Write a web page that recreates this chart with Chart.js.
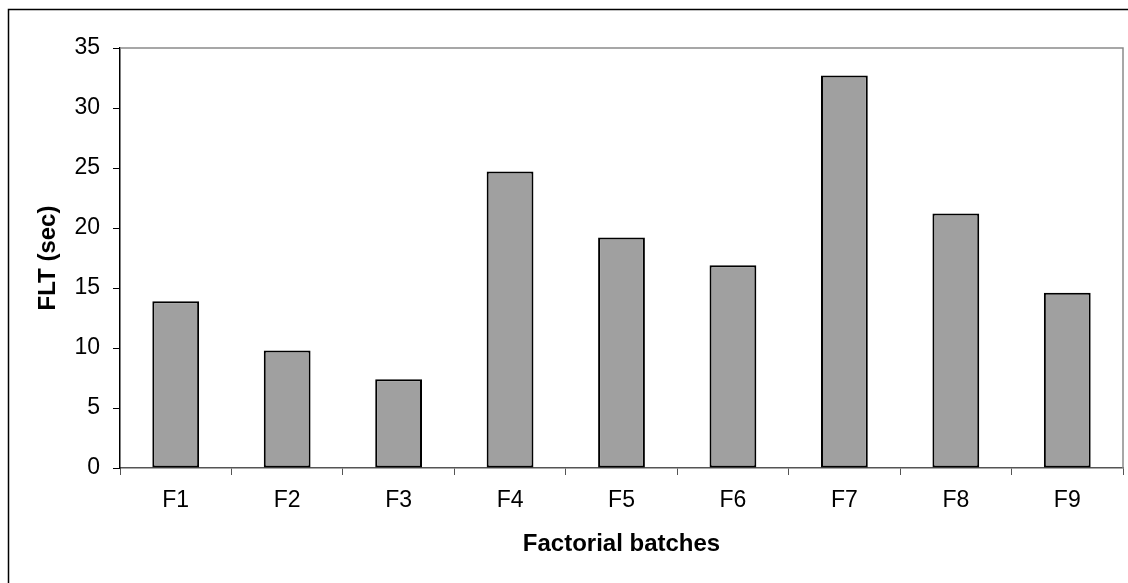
<!DOCTYPE html>
<html>
<head>
<meta charset="utf-8">
<script src="https://cdn.jsdelivr.net/npm/chart.js@4.4.0/dist/chart.umd.min.js"></script>
<style>
  html, body { margin: 0; padding: 0; background: #fff; }
  #wrap { width: 1128px; height: 583px; position: relative; }
</style>
</head>
<body>
<div id="wrap"><canvas id="fltChart"></canvas></div>
<script>
// ── Data ───────────────────────────────────────────────────────────
const batches  = ['F1', 'F2', 'F3', 'F4', 'F5', 'F6', 'F7', 'F8', 'F9'];
const fltSec   = [13.9, 9.8, 7.4, 24.7, 19.2, 16.9, 32.7, 21.2, 14.6];
const yTicks   = [0, 5, 10, 15, 20, 25, 30, 35];

const FONT = "'Liberation Sans', Arial, sans-serif";

// frame around the chart + grey top/right edges of the plot area
const framePlugin = {
  id: 'frame',
  beforeDraw(chart) {
    const c = chart.ctx;
    c.save();
    c.fillStyle = '#fff';
    c.fillRect(0, 0, chart.width, chart.height);
    c.strokeStyle = '#000';
    c.lineWidth = 1.5;
    c.beginPath();
    c.moveTo(8.5, chart.height + 5);
    c.lineTo(8.5, 9.5);
    c.lineTo(chart.width + 5, 9.5);
    c.stroke();
    c.restore();
  },
  afterDatasetsDraw(chart) {
    const { left, top, right, bottom } = chart.chartArea;
    const c = chart.ctx;
    c.save();
    c.strokeStyle = '#8a8a8a';
    c.lineWidth = 1.5;
    c.beginPath();
    c.moveTo(left, top);
    c.lineTo(right, top);
    c.lineTo(right, bottom);
    c.stroke();
    c.restore();
  },
};

const ctx = document.getElementById('fltChart').getContext('2d');
new Chart(ctx, {
  type: 'bar',
  data: {
    labels: batches,
    datasets: [{
      label:           'FLT (sec)',
      data:            fltSec,
      backgroundColor: '#a0a0a0',
      borderColor:     '#000',
      borderWidth:     2,
      borderSkipped:   false,
      categoryPercentage: 1,
      barPercentage:   0.42,
    }],
  },
  options: {
    responsive: true,
    maintainAspectRatio: false,
    animation: false,
    layout: { padding: { left: 0, top: 48, right: 5, bottom: 0 } },
    plugins: { legend: { display: false }, tooltip: { enabled: false } },
    scales: {
      x: {
        offset: true,
        grid: { offset: true, drawOnChartArea: false, drawTicks: true, tickLength: 7, color: '#555', lineWidth: 1 },
        border: { display: true, color: '#555', width: 1.5 },
        ticks: { color: '#000', font: { family: FONT, size: 23 }, padding: 12, maxRotation: 0 },
        title: { display: true, text: 'Factorial batches', color: '#000', font: { family: FONT, size: 24, weight: 'bold' }, padding: { top: 0, bottom: 24 } },
        afterFit: s => { s.height = 115; },
      },
      y: {
        min: 0,
        max: 35,
        afterBuildTicks: s => { s.ticks = yTicks.map(v => ({ value: v })); },
        grid: { drawOnChartArea: false, drawTicks: true, tickLength: 7, color: '#000', lineWidth: 1 },
        border: { display: true, color: '#000', width: 1.5 },
        ticks: { color: '#000', font: { family: FONT, size: 23 }, padding: 13 },
        title: { display: true, text: 'FLT (sec)', color: '#000', font: { family: FONT, size: 24, weight: 'bold' }, padding: { top: 34, bottom: 0 } },
        afterFit: s => { s.width = 120; },
      },
    },
  },
  plugins: [framePlugin],
});
</script>
</body>
</html>
